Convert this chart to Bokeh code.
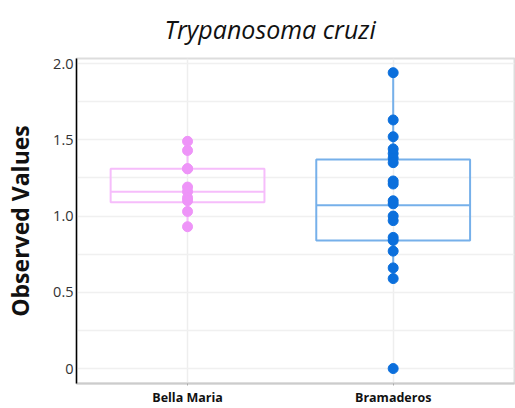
from bokeh.plotting import figure
from bokeh.models import Range1d, FixedTicker, Title
from bokeh.embed import file_html
from bokeh.resources import INLINE

title_text = "Trypanosoma cruzi"
categories = ["Bella Maria", "Bramaderos"]
bella_values = [1.49, 1.43, 1.31, 1.31, 1.19, 1.16, 1.12, 1.10, 1.03, 0.93]
bramaderos_values = [1.94, 1.63, 1.52, 1.44, 1.41, 1.38, 1.35, 1.23, 1.21, 1.10,
                     1.08, 1.00, 0.97, 0.86, 0.84, 0.77, 0.66, 0.59, 0.0]
q1 = [1.09, 0.84]
median = [1.16, 1.07]
q3 = [1.31, 1.37]
whisker_low = [0.93, 0.59]
whisker_high = [1.49, 1.94]
y_ticks = [0, 0.5, 1.0, 1.5, 2.0]
y_tick_labels = ["0", "0.5", "1.0", "1.5", "2.0"]

point_colors = ["#EE94F8", "#0B6FDC"]
box_colors = ["#F6BDFB", "#76B0EA"]

p = figure(width=515, height=408, output_backend="svg", toolbar_location=None,
           x_range=Range1d(-0.54, 1.59), y_range=Range1d(-0.098, 2.033),
           min_border_left=76, min_border_right=1, min_border_top=58, min_border_bottom=22)

p.title = Title(text=title_text, text_font="Open Sans", text_font_style="italic",
                text_font_size="25px", text_color="#111111", align="left", offset=88,
                standoff=22, vertical_align="top")
p.outline_line_color = "#dddddd"
p.outline_line_width = 2
p.background_fill_color = "white"
p.border_fill_color = "white"

# grids
p.ygrid.ticker = FixedTicker(ticks=[0, 0.25, 0.5, 0.75, 1.0, 1.25, 1.5, 1.75, 2.0])
p.ygrid.grid_line_color = "#f0f0f0"
p.ygrid.grid_line_width = 1.5
p.xgrid.ticker = FixedTicker(ticks=[0, 1])
p.xgrid.grid_line_color = "#eeeeee"
p.xgrid.grid_line_width = 1.5

# y axis
p.yaxis.ticker = FixedTicker(ticks=y_ticks)
p.yaxis.major_label_overrides = {t: l for t, l in zip(y_ticks, y_tick_labels)}
p.yaxis.axis_line_color = "black"
p.yaxis.axis_line_width = 1.5
p.yaxis.major_tick_line_color = None
p.yaxis.major_tick_out = 0
p.yaxis.major_tick_in = 0
p.yaxis.minor_tick_line_color = None
p.yaxis.major_label_text_font = "Open Sans"
p.yaxis.major_label_text_font_size = "14.5px"
p.yaxis.major_label_text_color = "#333333"
p.yaxis.major_label_standoff = 3
p.yaxis.axis_label = "Observed Values"
p.yaxis.axis_label_text_font = "Open Sans"
p.yaxis.axis_label_text_font_style = "bold"
p.yaxis.axis_label_text_font_size = "23px"
p.yaxis.axis_label_text_color = "#111111"
p.yaxis.axis_label_standoff = 14

# x axis
p.xaxis.ticker = FixedTicker(ticks=[0, 1])
p.xaxis.major_label_overrides = {0: categories[0], 1: categories[1]}
p.xaxis.axis_line_color = "#cccccc"
p.xaxis.axis_line_width = 2
p.xaxis.major_tick_line_color = "#aaaaaa"
p.xaxis.major_tick_in = 0
p.xaxis.major_tick_out = 2
p.xaxis.minor_tick_line_color = None
p.xaxis.major_label_text_font = "Open Sans"
p.xaxis.major_label_text_font_style = "bold"
p.xaxis.major_label_text_font_size = "12.5px"
p.xaxis.major_label_text_color = "#111111"
p.xaxis.major_label_standoff = 3

half = 0.374
xs = [0, 1]
# whiskers
p.segment(x0=xs, y0=whisker_low, x1=xs, y1=q1, line_color=box_colors, line_width=2)
p.segment(x0=xs, y0=q3, x1=xs, y1=whisker_high, line_color=box_colors, line_width=2)
# boxes
p.quad(left=[x - half for x in xs], right=[x + half for x in xs], bottom=q1, top=q3,
       fill_color=None, line_color=box_colors, line_width=2)
p.segment(x0=[x - half for x in xs], y0=median, x1=[x + half for x in xs], y1=median,
          line_color=box_colors, line_width=2)
# points
p.scatter(x=[0] * len(bella_values), y=bella_values, size=10, color=point_colors[0])
p.scatter(x=[1] * len(bramaderos_values), y=bramaderos_values, size=10, color=point_colors[1])

open("out.html", "w").write(file_html(p, INLINE))
